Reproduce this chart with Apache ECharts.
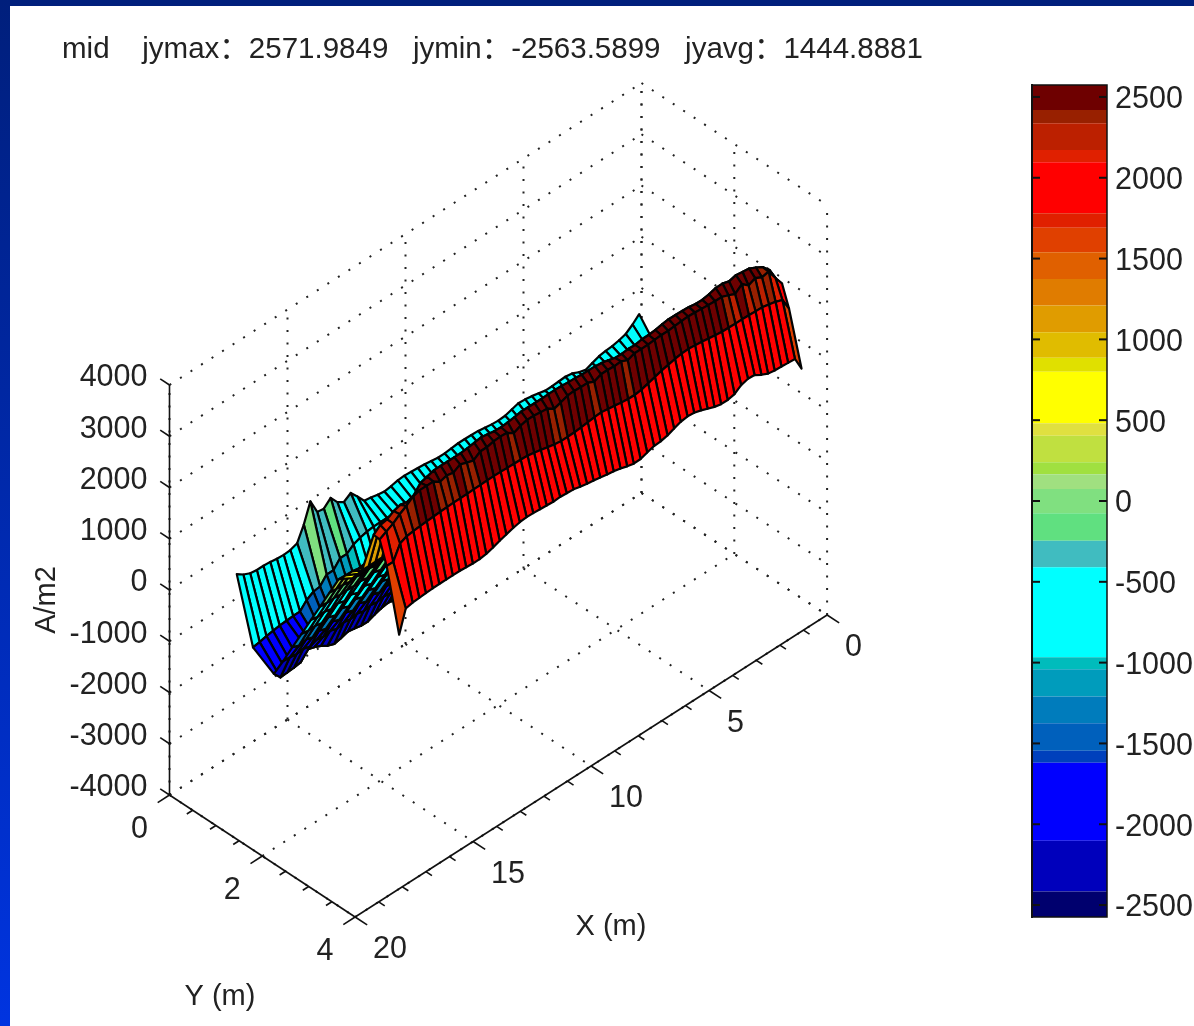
<!DOCTYPE html>
<html><head><meta charset="utf-8">
<style>html,body{margin:0;padding:0;background:#fff}#c{width:1194px;height:1026px}</style>
<script src="https://cdn.jsdelivr.net/npm/echarts@6/dist/echarts.min.js"></script>
</head><body><div id="c"></div>
<script>
const titleText = 'mid    jymax：2571.9849   jymin：-2563.5899   jyavg：1444.8881';
const xTicks = [0,5,10,15,20];
const xMinor = [1,2,3,4,6,7,8,9,11,12,13,14,16,17,18,19];
const yTicks = [0,2,4];
const yMinor = [0.5,1,1.5,2.5,3,3.5];
const zTicks = [-4000,-3000,-2000,-1000,0,1000,2000,3000,4000];
const cbTicks = [-2500,-2000,-1500,-1000,-500,0,500,1000,1500,2000,2500];
const cbEdges = [2574,2420,2337,2172,2096,1780,1691,1539,1374,1209,1044,887,800,481,404,240,165,74,-76,-246,-410,-967,-1041,-1210,-1375,-1545,-1620,-2102,-2416,-2574];
const cbColors = ['#6e0000','#982000','#bc2000','#e02000','#ff0000','#e02000','#e04000','#e06000','#e07c00','#e09c00','#e0bc00','#e0e000','#ffff00','#e0e040','#c0e040','#a0e040','#a0e080','#80e080','#60e080','#40bcc0','#00ffff','#00bcbc','#009cbc','#007cbc','#0060bc','#0040bc','#0000ff','#0000bc','#00006e'];

const xs = [0.10,0.38,0.67,0.95,1.24,1.52,1.80,2.09,2.37,2.66,
2.94,3.23,3.51,3.79,4.08,4.36,4.65,4.93,5.22,5.50,
5.78,6.07,6.35,6.64,6.92,7.21,7.49,7.77,8.06,8.34,
8.63,8.91,9.19,9.48,9.76,10.05,10.33,10.62,10.90,11.18,
11.47,11.75,12.04,12.32,12.61,12.89,13.17,13.46,13.74,14.03,
14.31,14.59,14.88,15.16,15.45,15.73,16.02,16.30,16.58,16.87,17.15];
const ys = [0,0.35,0.8,1,1.2,1.4,1.6,1.8,2,2.2,2.5,2.7,2.95,3.08,3.23,3.5];

const zY000 = [-480,-600,-700,-740,-770,-780,-800,-850,-900,-860,
-800,-780,-790,-800,-800,-770,-740,-720,-710,-750,
-790,-800,-790,-770,-750,-745,-740,-740,-755,-770,
-770,-750,-730,-720,-710,-700,-710,-740,-760,-740,
-710,-690,-520,-370,-460,-380,-215,-340,-320,-30,
-400,-680,-730,-740,-730,-710,-700,-700,-680,-620,-530];
const zY035 = [-880,-890,-900,-900,-910,-910,-920,-920,-930,-930,
-920,-920,-910,-910,-900,-900,-900,-910,-910,-920,
-920,-930,-930,-920,-920,-910,-910,-900,-900,-910,
-910,-920,-920,-920,-910,-910,-900,-900,-900,-900,
-900,-900,-900,-915,-950,-1000,-1100,-1100,-1250,-1250,
-1400,-1420,-1500,-1640,-1640,-1650,-1660,-1680,-1700,-1730,-1750];
const zY080 = [-2050,-2050,-2040,-2040,-2030,-2030,-2020,-2020,-2020,-2010,
-2010,-2010,-2020,-2020,-2030,-2030,-2020,-2020,-2010,-2010,
-2010,-2000,-2000,-2000,-2010,-2010,-2020,-2020,-2010,-2010,
-2000,-2000,-2000,-2000,-2000,-2010,-2010,-2000,-2000,-2000,
-2010,-2020,-2040,-2040,-2060,-2100,-2150,-2150,-2120,-2100,
-2140,-2170,-2120,-2040,-1980,-1940,-2110,-2130,-2140,-2150,-2000];
const zY100 = [-1640,-1640,-1630,-1630,-1630,-1620,-1620,-1620,-1620,-1620,
-1620,-1620,-1620,-1620,-1630,-1630,-1620,-1620,-1620,-1620,
-1620,-1620,-1620,-1620,-1620,-1620,-1630,-1630,-1620,-1620,
-1620,-1620,-1620,-1620,-1620,-1620,-1620,-1620,-1620,-1620,
-1620,-1620,-1620,-1620,-1640,-1625,-1650,-1630,-1660,-1625,
-1650,-1630,-1670,-1625,-1655,-1630,-1680,-1640,-1660,-1640,-1630];
const zY120 = [-1250,-1250,-1240,-1240,-1240,-1235,-1235,-1235,-1235,-1235,
-1235,-1235,-1235,-1235,-1240,-1240,-1235,-1235,-1235,-1235,
-1235,-1235,-1235,-1235,-1235,-1235,-1240,-1240,-1235,-1235,
-1235,-1235,-1235,-1235,-1235,-1235,-1235,-1235,-1235,-1235,
-1235,-1235,-1235,-1235,-1215,-1250,-1220,-1260,-1215,-1270,
-1220,-1280,-1230,-1290,-1240,-1300,-1250,-1300,-1260,-1290,-1240];
const zY140 = [-860,-860,-855,-855,-855,-850,-850,-850,-850,-850,
-850,-850,-850,-850,-855,-855,-850,-850,-850,-850,
-850,-850,-850,-850,-850,-850,-855,-855,-850,-850,
-850,-850,-850,-850,-850,-850,-850,-850,-850,-850,
-850,-850,-850,-850,-830,-870,-840,-880,-835,-890,
-840,-900,-850,-910,-860,-920,-870,-900,-870,-880,-860];
const zY160 = [-470,-470,-465,-465,-465,-468,-468,-468,-468,-468,
-468,-468,-468,-468,-465,-465,-468,-468,-468,-468,
-468,-468,-468,-468,-468,-468,-465,-465,-468,-468,
-468,-468,-468,-468,-468,-468,-468,-468,-468,-468,
-468,-468,-468,-468,-450,-490,-455,-500,-460,-510,
-465,-520,-470,-530,-475,-520,-480,-510,-480,-490,-470];
const zY180 = [-90,-90,-85,-85,-85,-85,-85,-85,-85,-85,
-85,-85,-85,-85,-85,-85,-85,-85,-85,-85,
-85,-85,-85,-85,-85,-85,-85,-85,-85,-85,
-85,-85,-85,-85,-85,-85,-85,-85,-85,-85,
-85,-85,-85,-85,-70,-100,-75,-110,-80,-120,
-85,-130,-90,-120,-95,-110,-100,-105,-95,-100,-90];
const zY200 = [295,295,298,298,298,298,298,298,298,298,
298,298,298,298,298,298,298,298,298,298,
298,298,298,298,298,298,298,298,298,298,
298,298,298,298,298,298,298,298,298,298,
298,298,298,298,320,280,310,270,300,260,
295,250,290,240,285,250,280,260,285,290,300];
const zY220 = [680,680,681,681,681,681,681,681,681,681,
681,681,681,681,681,681,681,681,681,681,
681,681,681,681,681,681,681,681,681,681,
681,681,681,681,681,681,681,681,681,681,
681,681,681,681,700,660,690,650,680,640,
675,630,670,620,665,630,660,640,665,670,680];
const zY250 = [880,880,880,880,880,880,880,880,880,880,
880,880,880,880,880,880,880,880,880,880,
880,880,880,880,880,880,880,880,880,880,
880,880,880,880,880,880,880,880,880,880,
880,880,880,880,870,880,870,880,870,880,
870,880,870,880,870,880,870,880,870,880,880];
const zY270 = [1150,1150,1150,1150,1150,1150,1150,1150,1150,1150,
1150,1150,1150,1150,1150,1150,1150,1150,1150,1150,
1150,1150,1150,1150,1150,1150,1150,1150,1150,1150,
1150,1150,1150,1150,1150,1150,1150,1150,1150,1150,
1150,1150,1150,1150,1150,1150,1150,1150,1150,1150,
1150,1150,1150,1150,1150,1150,1150,1150,1150,1150,1150];
const zY295 = [1961,2219,2361,2435,2500,2517,2537,2500,2540,2537,
2500,2474,2478,2500,2509,2513,2517,2500,2474,2459,
2459,2433,2440,2425,2430,2470,2500,2515,2517,2520,
2535,2540,2550,2556,2556,2550,2550,2552,2556,2530,
2515,2500,2510,2530,2552,2530,2510,2500,2500,2500,
2500,2500,2460,2420,2263,2215,2244,2205,2127,2100,1990];
const zY308 = [1950,2140,2350,2320,2390,2330,2440,2330,2390,2440,
2440,2450,2460,2470,2480,2470,2460,2450,2450,2440,
2430,2430,2430,2380,2440,2430,2440,2440,2380,2440,
2440,2450,2440,2390,2350,2440,2450,2470,2470,2440,
2380,2470,2480,2470,2440,2440,2350,2390,2440,2360,
2390,2350,2440,2440,2440,2400,2300,2220,2120,2050,1980];
const zY323 = [1550,1800,1850,1880,1910,1915,1920,1925,1925,1930,
1935,1950,1970,1990,2005,2020,2010,1990,1960,1930,
1890,1850,1810,1790,1795,1810,1830,1850,1870,1860,
1845,1830,1815,1810,1810,1830,1860,1890,1920,1945,
1950,1955,1960,1965,1967,1965,1960,1958,1955,1952,
1950,1945,1940,1930,1920,1910,1900,1880,1820,1550,1550];
const zY350 = [540,810,820,830,840,860,920,1000,1010,970,
880,850,850,880,930,980,1020,1030,1010,960,
910,880,870,830,785,780,810,850,880,900,
930,950,970,1000,1030,1040,1050,1040,1050,1060,
1070,1075,1060,1030,990,950,900,860,840,840,
850,860,860,860,860,855,850,840,830,800,370];
const zRows = [zY000,zY035,zY080,zY100,zY120,zY140,zY160,zY180,zY200,zY220,zY250,zY270,zY295,zY308,zY323,zY350];

// view of the 3-D box: where one data unit falls on the page
const view = {ox:641.5, oy:493, xu:[-23.6,15.1], yu:[46.4,30.5], zu:-0.05125, zFloor:-4000};
function project(X,Y,Z){
  return [view.ox + view.xu[0]*X + view.yu[0]*Y,
          view.oy + view.xu[1]*X + view.yu[1]*Y + view.zu*(Z-view.zFloor)];
}
function bandColor(v){
  for(let k=0;k<cbColors.length;k++){ if(v>=cbEdges[k+1]) return cbColors[k]; }
  return cbColors[cbColors.length-1];
}
// far-to-near order for a camera on the +X,+Y,+Z side
const facets=[];
for(let i=0;i<xs.length-1;i++){
  for(let j=0;j<ys.length-1;j++){
    facets.push([xs[i],ys[j],zRows[j][i], xs[i+1],ys[j],zRows[j][i+1],
                 xs[i+1],ys[j+1],zRows[j+1][i+1], xs[i],ys[j+1],zRows[j+1][i]]);
  }
}
// frame: kind 0 dotted grid, 1 solid axis/tick
const frame=[];
const xMax=20,yMax=4,zMin=-4000,zMax=4000;
function seg(kind,a,b){frame.push([kind,a[0],a[1],a[2],b[0],b[1],b[2]]);}
zTicks.forEach(z=>{seg(0,[xMax,0,z],[0,0,z]);seg(0,[0,0,z],[0,yMax,z]);});
xTicks.forEach(x=>{seg(0,[x,0,zMin],[x,0,zMax]);seg(0,[x,0,zMin],[x,yMax,zMin]);});
yTicks.forEach(y=>{seg(0,[0,y,zMin],[0,y,zMax]);seg(0,[xMax,y,zMin],[0,y,zMin]);});
seg(1,[xMax,0,zMin],[xMax,0,zMax]);
seg(1,[xMax,0,zMin],[xMax,yMax,zMin]);
seg(1,[xMax,yMax,zMin],[0,yMax,zMin]);
zTicks.forEach(z=>seg(1,[xMax,0,z],[xMax,-0.2,z]));
xTicks.forEach(x=>seg(1,[x,yMax,zMin],[x,yMax+0.26,zMin]));
xMinor.forEach(x=>seg(1,[x,yMax,zMin],[x,yMax+0.13,zMin]));
yTicks.forEach(y=>seg(1,[xMax,y,zMin],[xMax+0.5,y,zMin]));
yMinor.forEach(y=>seg(1,[xMax,y,zMin],[xMax+0.25,y,zMin]));

const font='"Liberation Sans",Arial,"Noto Sans CJK SC",sans-serif';
const ink='#222';
const tickLabels=[];
xTicks.forEach(x=>tickLabels.push([x,yMax,zMin,String(x),0]));
yTicks.forEach(y=>tickLabels.push([xMax,y,zMin,String(y),1]));
zTicks.forEach(z=>tickLabels.push([xMax,0,z,String(z),2]));
const labelRule=[{dx:18,dy:33,align:'left'},{dx:-30,dy:35,align:'center'},{dx:-22,dy:-7,align:'right'}];

const option={
  animation:false,
  backgroundColor:'#fff',
  title:{text:titleText,left:62,top:35,padding:0,textStyle:{fontFamily:font,fontSize:29.5,fontWeight:'normal',color:ink}},
  grid:[{left:0,top:0,width:1194,height:1026,containLabel:false,outerBoundsMode:'none'},
        {left:1032,top:85,width:75,height:832,show:true,backgroundColor:'transparent',borderColor:'#111',borderWidth:1.5,outerBoundsMode:'none',z:6}],
  xAxis:[{type:'value',gridIndex:0,min:0,max:1194,show:false},
         {type:'value',gridIndex:1,min:0,max:1,show:false}],
  yAxis:[{type:'value',gridIndex:0,min:0,max:1026,inverse:true,show:false},
         {type:'value',gridIndex:1,position:'right',min:-2574,max:2574,z:6,
          axisLine:{show:true,lineStyle:{color:'#111',width:2}},
          axisTick:{show:false},
          axisLabel:{show:true,inside:false,margin:8,customValues:cbTicks,showMinLabel:true,showMaxLabel:true,formatter:v=>'{a|'+v+'}',
            rich:{a:{fontFamily:font,fontSize:30.5,color:ink,padding:[6,0,0,0]}}},
          splitLine:{show:false}},
         {type:'value',gridIndex:1,position:'left',min:-2574,max:2574,z:6,
          axisLine:{show:true,lineStyle:{color:'#111',width:2}},
          axisTick:{show:false},axisLabel:{show:false},splitLine:{show:false}}],
  graphic:[
    {type:'rect',z:100,silent:true,shape:{x:0,y:0,width:1194,height:6},style:{fill:'#001f7c'}},
    {type:'rect',z:100,silent:true,shape:{x:0,y:0,width:10,height:1026},
     style:{fill:{type:'linear',x:0,y:0,x2:0,y2:1,colorStops:[{offset:0,color:'#001f7c'},{offset:1,color:'#0034e0'}]}}},
    {type:'text',z:50,silent:true,x:611,y:927,style:{text:'X (m)',fontFamily:font,fontSize:29,fill:ink,align:'center',verticalAlign:'middle'}},
    {type:'text',z:50,silent:true,x:220,y:997,style:{text:'Y (m)',fontFamily:font,fontSize:29,fill:ink,align:'center',verticalAlign:'middle'}},
    {type:'text',z:50,silent:true,x:47,y:600,rotation:Math.PI/2,style:{text:'A/m2',fontFamily:font,fontSize:29,fill:ink,align:'center',verticalAlign:'middle'}}
  ],
  series:[
    {type:'custom',name:'frame',xAxisIndex:0,yAxisIndex:0,z:1,silent:true,clip:false,data:frame,progressive:0,
     renderItem(p,api){
       const a=api.coord(project(api.value(1),api.value(2),api.value(3)));
       const b=api.coord(project(api.value(4),api.value(5),api.value(6)));
       const solid=api.value(0)===1;
       return {type:'line',shape:{x1:a[0],y1:a[1],x2:b[0],y2:b[1]},
         style:solid?{stroke:'#111',lineWidth:1.6,fill:null}:{stroke:'#222',lineWidth:2,lineDash:[2,10.5],fill:null}};
     }},
    {type:'custom',name:'surface',xAxisIndex:0,yAxisIndex:0,z:2,silent:true,clip:false,data:facets,progressive:0,
     renderItem(p,api){
       const pts=[];
       for(let k=0;k<4;k++){pts.push(api.coord(project(api.value(k*3),api.value(k*3+1),api.value(k*3+2))));}
       return {type:'polygon',shape:{points:pts},style:{fill:bandColor(api.value(2)),stroke:'#030303',lineWidth:2.2,lineJoin:'round'}};
     }},
    {type:'custom',name:'axis labels',xAxisIndex:0,yAxisIndex:0,z:3,silent:true,clip:false,data:tickLabels.map(t=>[t[0],t[1],t[2],t[4]]),progressive:0,
     renderItem(p,api){
       const t=tickLabels[p.dataIndex];
       const a=api.coord(project(t[0],t[1],t[2]));
       const r=labelRule[t[4]];
       return {type:'text',x:a[0]+r.dx,y:a[1]+r.dy,style:{text:t[3],fontFamily:font,fontSize:30.5,fill:ink,align:r.align,verticalAlign:'middle'}};
     }},
    {type:'custom',name:'colorbar',xAxisIndex:1,yAxisIndex:1,z:1,silent:true,
     data:cbColors.map((c,k)=>[cbEdges[k+1],cbEdges[k]]),progressive:0,
     renderItem(p,api){
       const a=api.coord([0,api.value(1)]),b=api.coord([1,api.value(0)]);
       return {type:'rect',shape:{x:a[0],y:a[1],width:b[0]-a[0],height:b[1]-a[1]},style:{fill:cbColors[p.dataIndex]}};
     }},
    {type:'custom',name:'colorbar ticks',xAxisIndex:1,yAxisIndex:1,z:7,silent:true,
     data:cbTicks.map(v=>[v]),progressive:0,
     renderItem(p,api){
       const a=api.coord([0,api.value(0)]),b=api.coord([1,api.value(0)]);
       const st={stroke:'#111',lineWidth:2,fill:null};
       return {type:'group',children:[
         {type:'line',shape:{x1:a[0],y1:a[1],x2:a[0]+8,y2:a[1]},style:st},
         {type:'line',shape:{x1:b[0]-8,y1:b[1],x2:b[0],y2:b[1]},style:st}]};
     }}
  ]
};
const chart=echarts.init(document.getElementById('c'),null,{renderer:'canvas',width:1194,height:1026});
chart.setOption(option);
</script></body></html>
